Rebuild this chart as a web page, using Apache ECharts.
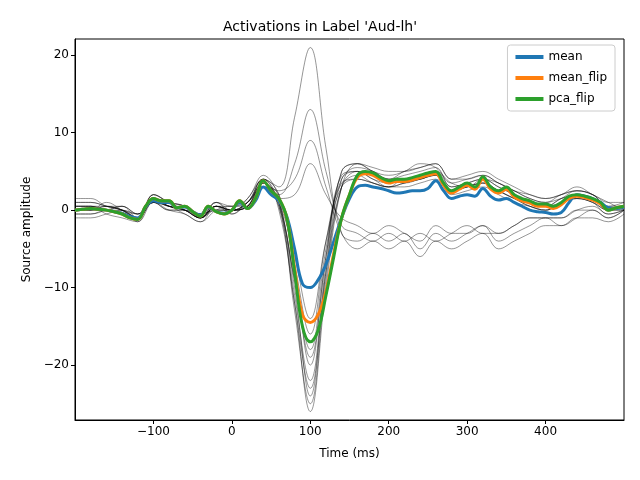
<!DOCTYPE html>
<html>
<head>
<meta charset="utf-8">
<script src="https://cdn.jsdelivr.net/npm/echarts@6/dist/echarts.min.js"></script>
<style>html,body{margin:0;padding:0;background:#fff}#chart{width:640px;height:480px}</style>
</head>
<body>
<div id="chart"></div>
<script>
// times for the summary curves (10 ms steps) and the single-vertex traces (20 ms steps)
const times10 = []
for (let t = -200; t <= 500; t += 10) times10.push(t)
const times20 = []
for (let t = -200; t <= 500; t += 20) times20.push(t)

const meanVals = [0,0.1,0.2,0.1,0,-0.2,-0.4,-0.8,-1,0.4,1.2,1,1,0.3,0.4,-0.2,-0.6,0.4,-0.2,-0.4,0,1,0.2,1.2,3,2,1.2,-0.8,-5,-9.5,-10,-9,-7,-4,-1,1.5,3,3.2,3,2.8,2.5,2.2,2.3,2.5,2.5,2.8,3.8,2.5,1.5,1.8,2,1.8,2.8,1.8,1.3,1.5,1,0.5,0,-0.2,-0.3,-0.5,-0.3,1,2,1.8,1.5,1,0.3,0.2,0.4]
const meanFlipVals = [0,0.1,0.2,0.1,0,-0.2,-0.5,-1,-1.2,0.5,1.5,1.2,1.2,0.3,0.5,-0.2,-0.8,0.5,-0.2,-0.5,0,1.2,0.2,1.5,3.8,2.5,1.5,-1,-7.5,-13.5,-14.5,-13.5,-10.5,-5.5,-1,2,4.2,4.7,4.5,3.9,3.5,3.7,3.7,3.9,4.2,4.5,4.7,3.2,2.2,2.7,3.2,2.7,4,2.7,2.2,2.7,1.7,1.2,0.9,0.5,0.5,0.2,0.7,1.5,1.8,1.6,1.3,0.8,0,0.3,0.5]
const pcaFlipVals = [0,0.1,0.2,0.1,0,-0.2,-0.5,-1,-1.2,0.5,1.5,1.2,1.2,0.3,0.5,-0.2,-0.8,0.5,-0.2,-0.5,0,1.2,0.2,1.5,3.8,2.5,1.5,-1,-8,-15,-17,-15.5,-11,-6,-1,2,4.5,5,4.8,4.2,3.8,4,4,4.2,4.5,4.8,5,3.5,2.5,3,3.5,3,4.3,3,2.5,3,2,1.5,1.2,0.8,0.8,0.5,1,1.8,2,1.8,1.5,1,0,0.3,0.5]

const traces = [
  [0.5,0.5,0,-0.3,-1,1.5,0.5,0,-1,0.5,0,1,3.5,1,-10,-24,-8,4,5,4,3.5,4,4.5,5,3,3.5,4,3,2,1,0.5,1.5,2,1.5,0,0.5],
  [1,1,0.5,0,-1.5,2,1,0.5,-0.5,1,-0.5,1.5,4,0,-12,-26,-10,3,6,5,4,5,5.5,6,4,4.5,5,4,3,2,1.5,2,3,2,1,0],
  [-0.5,-0.5,0,0.5,-0.5,1,0,-0.5,-1.5,0,0.5,0.5,3,2,-8,-20,-6,4.5,5,4.5,4,3.5,4,4.5,2.5,3,3.5,2.5,1.5,0.5,0,1,1.5,1,-0.5,0],
  [0,0,1,0,-1,2,1,0.5,-1,1,0.5,1.5,4.5,1.5,-11,-22,-7,5,6,5,4.5,5,6,5.5,3.5,4,4.5,3.5,2.5,1.5,1,2,2.5,2,0.5,1],
  [0.5,0.5,-0.5,-1,-1.5,1,0,0,-0.5,0.5,-0.5,1,3,0.5,-9,-18,-5,3.5,4,3.5,3,3,3.5,4,2,2.5,3,2,1,0.5,0,1,1.5,1,0,0],
  [1.5,1.5,0.5,0,-1,1.5,1,0.5,-1,0.5,0,0.5,3.5,1,-13,-25,-9,3,5,4,3,4,4,5,3.5,3,4,3,2,1,0.5,1.5,2.5,2,0.5,0.5],
  [0,0,0,0.5,-0.5,1.5,0.5,0,-1,0,0,1,4,2,-7,-16,-4,4,5.5,5,4,4.5,5,5.5,3,3.5,4,3.5,2.5,1.5,1,1.5,2,1.5,0,0.5],
  [-1,-1,-0.5,0,-1,1,0.5,-0.5,-1.5,0.5,0,0.5,3,0.5,-12,-23,-8,3,4.5,3.5,3,3.5,4,4.5,2.5,3,3.5,2.5,1.5,0.5,0,1,1.5,1,0,0],
  [0.5,0.5,0.5,0,-1,2,1,0,-1,1,0,1,4,1,-9,-19,-6,5,6,5.5,5,5,5.5,6,4,4,4.5,3.5,2.5,2,1.5,2,2.5,2,1,1],
  [0,0,0.5,0,-0.5,1,0.5,0,-0.5,0,0,0.5,4,3,12,21,8,-3,-4,-3,-4,-3,-5,-3,-4,-3,-2,-4,-3,-2,-1,-2,-1,0,-1,0],
  [0.5,0.5,0,-0.5,-1,1,0,0,-1,0.5,0.5,1,3,2,6,13,5,-2,-3,-4,-3,-4,-3,-4,-3,-2,-3,-3,-2,-1,-1,-1,0,0,-1,0],
  [-0.5,-0.5,0,0,-0.5,1.5,0.5,0.5,-0.5,0,0,0.5,3.5,2.5,4,9,3,-3,-5,-4,-5,-4,-6,-4,-5,-4,-3,-5,-4,-3,-2,-2,-1,-1,-1.5,-0.5],
  [0,0,0.5,0.5,-1,1,0.5,0,-1,0.5,0,0.5,3,1.5,2,6,2,-1,-2,-3,-2,-3,-4,-2,-3,-3,-2,-3,-2,-1,-1,-1,0,0.5,-0.5,0],
  [1,1,0.5,0,-1,1.5,0.5,0,-1,0.5,0,1,3.5,1,-6,-14,-4,3,4,3.5,3,3.5,4,4.5,2.5,3,3.5,2.5,1.5,1,0.5,1,2,1.5,0,0.5]
]

const yTicks = [-20, -10, 0, 10, 20]
const xTicks = [-100, 0, 100, 200, 300, 400]

const fmt = v => String(v).replace('-', '\u2212')
const font = 'DejaVu Sans'
const chart = echarts.init(document.getElementById('chart'))

const series = traces.map(vals => ({
  type: 'line', smooth: 0.4, showSymbol: false, silent: true,
  data: times20.map((t, i) => [t, vals[i]]),
  lineStyle: { color: '#000', width: 0.6, opacity: 0.7 }
}))
const add = (name, vals, color) => series.push({
  name, type: 'line', smooth: 0.4, showSymbol: false,
  data: times10.map((t, i) => [t, vals[i]]),
  lineStyle: { color, width: 3 }, itemStyle: { color }
})
add('mean', meanVals, '#1f77b4')
add('mean_flip', meanFlipVals, '#ff7f0e')
add('pca_flip', pcaFlipVals, '#2ca02c')

chart.setOption({
  animation: false,
  textStyle: { fontFamily: font },
  title: { text: "Activations in Label 'Aud-lh'", left: 'center', top: 15,
    textStyle: { fontFamily: font, fontSize: 14, fontWeight: 'normal', color: '#000' } },
  legend: {
    data: ['mean', 'mean_flip', 'pca_flip'], orient: 'vertical', right: 25, top: 45,
    itemWidth: 28, itemHeight: 4, itemGap: 9, icon: 'rect',
    borderColor: '#ccc', borderWidth: 1, borderRadius: 3, padding: [6, 8],
    textStyle: { fontFamily: font, fontSize: 12, color: '#000' }
  },
  grid: { left: 75, right: 16, top: 39, bottom: 60, show: true, borderColor: '#000', borderWidth: 1 },
  xAxis: {
    type: 'value', min: -200, max: 500, name: 'Time (ms)', nameLocation: 'middle', nameGap: 28,
    nameTextStyle: { fontFamily: font, fontSize: 12, color: '#000' },
    splitLine: { show: false },
    axisLine: { onZero: false, lineStyle: { color: '#000' } },
    axisTick: { show: true, length: 4, inside: false, customValues: xTicks, lineStyle: { color: '#000' } },
    axisLabel: { customValues: xTicks, formatter: fmt, color: '#000', fontSize: 12, margin: 6 }
  },
  yAxis: {
    type: 'value', min: -27.1, max: 22.1, name: 'Source amplitude', nameLocation: 'middle', nameGap: 42,
    nameTextStyle: { fontFamily: font, fontSize: 12, color: '#000' },
    splitLine: { show: false },
    axisLine: { show: true, onZero: false, lineStyle: { color: '#000' } },
    axisTick: { show: true, length: 4, inside: false, customValues: yTicks, lineStyle: { color: '#000' } },
    axisLabel: { customValues: yTicks, formatter: fmt, color: '#000', fontSize: 12, margin: 6 }
  },
  series
})
</script>
</body>
</html>
